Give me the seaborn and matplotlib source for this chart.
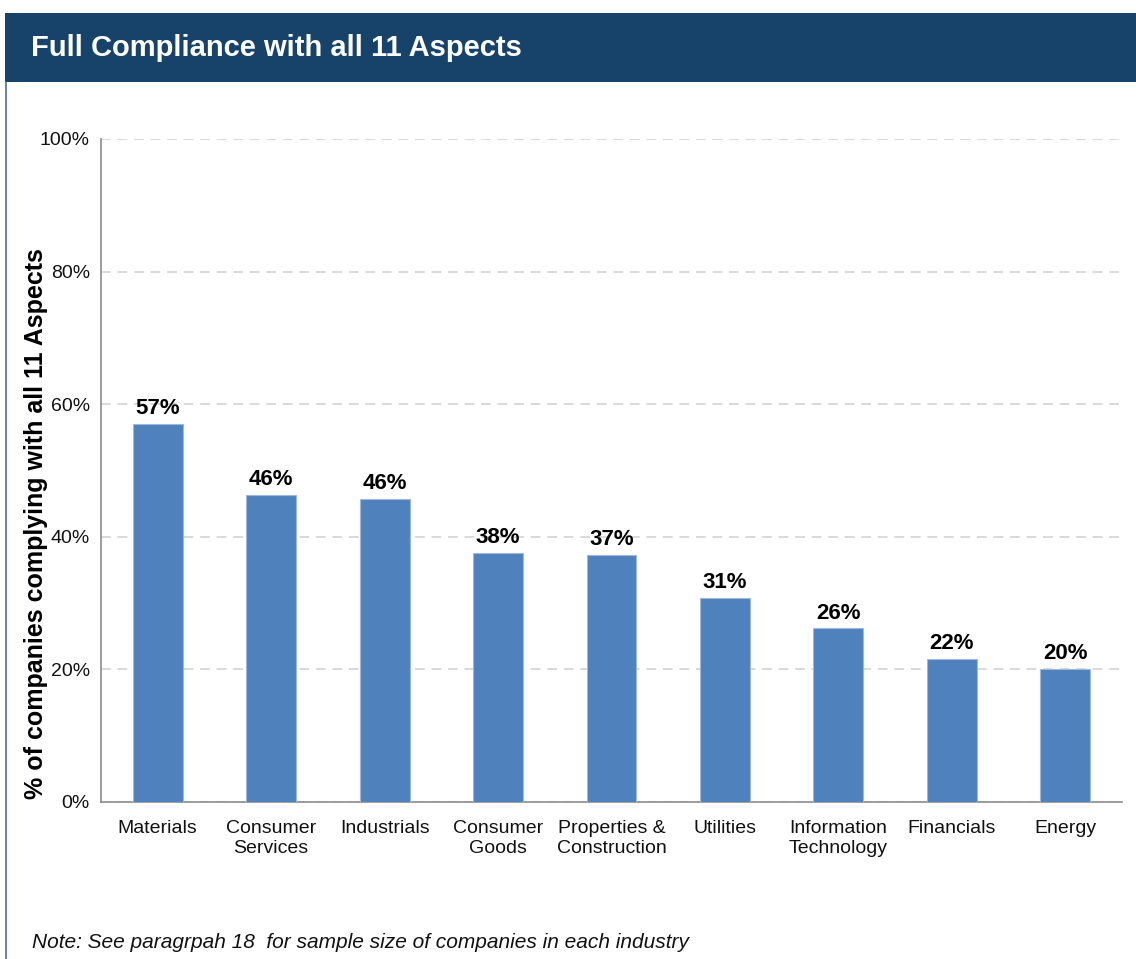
import matplotlib
matplotlib.use("Agg")
import matplotlib.pyplot as plt
from matplotlib.patches import Rectangle
from matplotlib.lines import Line2D
from matplotlib.ticker import FixedLocator, PercentFormatter
import seaborn as sns
import pandas as pd
import numpy as np

industries = ["Materials", "Consumer\nServices", "Industrials", "Consumer\nGoods",
              "Properties &\nConstruction", "Utilities", "Information\nTechnology",
              "Financials", "Energy"]
compliance_pct = [57.0, 46.3, 45.7, 37.6, 37.3, 30.8, 26.2, 21.6, 20.1]
y_ticks = [0, 20, 40, 60, 80, 100]

title_text = "Full Compliance with all 11 Aspects"
y_label = "% of companies complying with all 11 Aspects"
note_text = "Note: See paragrpah 18  for sample size of companies in each industry"

sns.set_theme(style="white")
plt.rcParams["font.family"] = ["Liberation Sans", "DejaVu Sans"]

W, H = 1136, 959
fig = plt.figure(figsize=(W / 100, H / 100), dpi=100)

def fx(px):
    return px / W

def fy(py):
    return 1 - py / H

# Banner and left frame line
fig.patches.append(Rectangle((fx(5), fy(82)), 1 - fx(5), fy(13) - fy(82),
                             transform=fig.transFigure, facecolor="#17436b",
                             edgecolor="none", zorder=0))
fig.lines.append(Line2D([fx(5.5), fx(5.5)], [fy(82), 0], transform=fig.transFigure,
                        color="#4a6f96", linewidth=1.2))
fig.text(fx(31), fy(48), title_text, color="white", fontsize=21,
         fontweight="bold", va="center", ha="left")

ax = fig.add_axes([fx(101), fy(802), fx(1122) - fx(101), fy(139) - fy(802)])

df = pd.DataFrame({"industry": industries, "pct": compliance_pct})
sns.barplot(data=df, x="industry", y="pct", ax=ax, color="#4f81bd",
            saturation=1, width=0.44, edgecolor="#9db8da", linewidth=0.8, zorder=3)

ax.set_xlim(-0.5, len(industries) - 0.5)
ax.set_ylim(0, 100)
ax.yaxis.set_major_locator(FixedLocator(y_ticks))
ax.yaxis.set_major_formatter(PercentFormatter(decimals=0))
ax.grid(axis="y", color="#d9d9d9", linestyle=(0, (5, 3.5)), linewidth=1.4, zorder=0)
ax.set_axisbelow(True)

for s in ["top", "right"]:
    ax.spines[s].set_visible(False)
for s in ["left", "bottom"]:
    ax.spines[s].set_color("#8c8c8c")
    ax.spines[s].set_linewidth(1.2)

ax.xaxis.set_minor_locator(FixedLocator(np.arange(-0.5, len(industries) + 0.5, 1)))
ax.tick_params(axis="x", which="major", length=0, pad=13, labelsize=14, colors="#111111")
ax.tick_params(axis="x", which="minor", length=5, width=1.2, color="#8c8c8c", direction="out")
ax.tick_params(axis="y", which="major", length=5, width=1.2, color="#8c8c8c",
               direction="out", labelsize=14, labelcolor="#111111", pad=3)
ax.set_xlabel("")
ax.set_ylabel("")

for i, v in enumerate(compliance_pct):
    ax.text(i, v + 0.7, f"{v:.0f}%", ha="center", va="bottom", fontsize=16,
            fontweight="bold", color="black")

fig.text(fx(36), fy(524), y_label, rotation=90, fontsize=18, fontweight="bold",
         ha="center", va="center", color="black")

fig.text(fx(32), fy(943), note_text, fontsize=15, style="italic",
         ha="left", va="center", color="#111111")

fig.savefig("out.png", dpi=100)
